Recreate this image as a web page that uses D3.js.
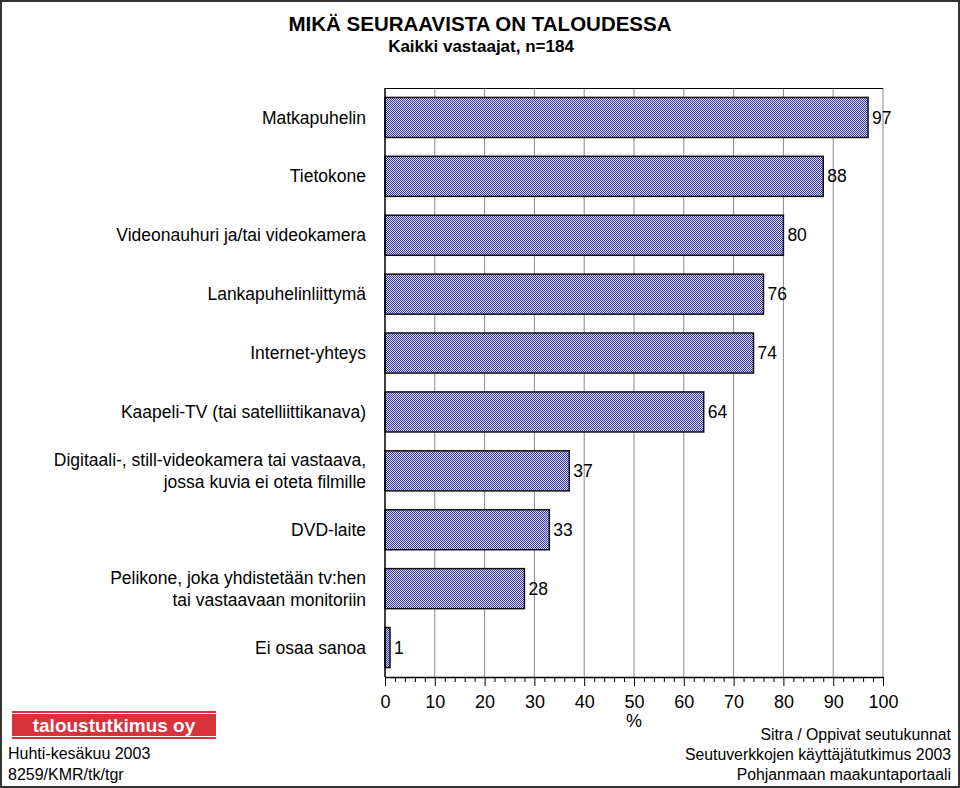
<!DOCTYPE html>
<html>
<head>
<meta charset="utf-8">
<script src="https://cdn.jsdelivr.net/npm/d3@7"></script>
<style>
  body { margin: 0; background: #fff; }
  svg { display: block; font-family: "Liberation Sans", Arial, sans-serif; }
</style>
</head>
<body>
<div id="chart"></div>
<script>
const categories = [
    ["Matkapuhelin"],
    ["Tietokone"],
    ["Videonauhuri ja/tai videokamera"],
    ["Lankapuhelinliittymä"],
    ["Internet-yhteys"],
    ["Kaapeli-TV (tai satelliittikanava)"],
    ["Digitaali-, still-videokamera tai vastaava,", "jossa kuvia ei oteta filmille"],
    ["DVD-laite"],
    ["Pelikone, joka yhdistetään tv:hen", "tai vastaavaan monitoriin"],
    ["Ei osaa sanoa"]
];
const values = [97, 88, 80, 76, 74, 64, 37, 33, 28, 1];
const xTicks = [0, 10, 20, 30, 40, 50, 60, 70, 80, 90, 100];
const footLeft = ["Huhti-kesäkuu 2003", "8259/KMR/tk/tgr"];
const footRight = ["Sitra / Oppivat seutukunnat", "Seutuverkkojen käyttäjätutkimus 2003", "Pohjanmaan maakuntaportaali"];

const width = 960, height = 788;
const plot = { left: 385, right: 883, top: 88, bottom: 677 };

const svg = d3.select("#chart").append("svg")
    .attr("width", width)
    .attr("height", height);

// Pattern for the bars
const pat = svg.append("defs").append("pattern")
    .attr("id", "checks")
    .attr("width", 2).attr("height", 2)
    .attr("patternUnits", "userSpaceOnUse");
pat.append("rect").attr("width", 2).attr("height", 2).attr("fill", "#d8d8ff");
pat.append("rect").attr("width", 1).attr("height", 1).attr("fill", "#3a3aa8");
pat.append("rect").attr("x", 1).attr("y", 1).attr("width", 1).attr("height", 1).attr("fill", "#3a3aa8");

// Outer frame
svg.append("rect")
    .attr("x", 1).attr("y", 1)
    .attr("width", width - 2).attr("height", height - 2)
    .attr("fill", "none")
    .attr("stroke", "#333")
    .attr("stroke-width", 2);

// Titles
svg.append("text")
    .attr("x", 480).attr("y", 31)
    .attr("text-anchor", "middle")
    .style("font-size", "20.5px").style("font-weight", "bold")
    .text("MIKÄ SEURAAVISTA ON TALOUDESSA");
svg.append("text")
    .attr("x", 481).attr("y", 52)
    .attr("text-anchor", "middle")
    .style("font-size", "17px").style("font-weight", "bold")
    .text("Kaikki vastaajat, n=184");

const x = d3.scaleLinear().domain([0, 100]).range([plot.left, plot.right]);
const y = d3.scaleBand()
    .domain(d3.range(categories.length))
    .range([plot.top, plot.bottom])
    .paddingInner(0.32).paddingOuter(0.16);

// Gridlines
svg.append("g")
    .selectAll("line")
    .data(xTicks.slice(1))
    .join("line")
    .attr("x1", d => x(d)).attr("x2", d => x(d))
    .attr("y1", plot.top).attr("y2", plot.bottom)
    .attr("stroke", "#8a8a8a")
    .attr("stroke-width", 1);

// Top border of plot
svg.append("line")
    .attr("x1", plot.left).attr("x2", plot.right)
    .attr("y1", plot.top + 0.5).attr("y2", plot.top + 0.5)
    .attr("stroke", "#000");

// Bars
svg.append("g")
    .selectAll("rect")
    .data(values)
    .join("rect")
    .attr("x", x(0))
    .attr("y", (d, i) => y(i))
    .attr("width", d => x(d) - x(0))
    .attr("height", y.bandwidth())
    .attr("fill", "url(#checks)")
    .attr("stroke", "#111")
    .attr("stroke-width", 1.5);

// Value labels
svg.append("g")
    .selectAll("text")
    .data(values)
    .join("text")
    .attr("x", d => x(d) + 4)
    .attr("y", (d, i) => y(i) + y.bandwidth() / 2)
    .attr("dy", "0.35em")
    .style("font-size", "17.5px")
    .text(d => d);

// Category labels
const labels = svg.append("g")
    .selectAll("text")
    .data(categories)
    .join("text")
    .attr("text-anchor", "end")
    .attr("x", 366)
    .attr("y", (d, i) => y(i) + y.bandwidth() / 2)
    .style("font-size", "17.5px");
labels.selectAll("tspan")
    .data(d => d.map((t, k) => ({ t, k, n: d.length })))
    .join("tspan")
    .attr("x", 366)
    .attr("dy", d => d.k === 0 ? `${0.35 - (d.n - 1) * 0.63}em` : "1.26em")
    .text(d => d.t);

// Left axis line
svg.append("line")
    .attr("x1", plot.left).attr("x2", plot.left)
    .attr("y1", plot.top).attr("y2", plot.bottom)
    .attr("stroke", "#000").attr("stroke-width", 1.5);

// X axis
const minor = d3.range(0, 101, 2).filter(d => d % 10 !== 0);
svg.append("g")
    .attr("transform", `translate(0,${plot.bottom})`)
    .call(d3.axisBottom(x).tickValues(minor).tickSize(5).tickFormat(""))
    .call(g => g.select(".domain").remove());
const xAxis = svg.append("g")
    .attr("transform", `translate(0,${plot.bottom})`)
    .call(d3.axisBottom(x).tickValues(xTicks).tickSize(9).tickSizeOuter(0).tickPadding(9));
xAxis.select(".domain").attr("stroke-width", 1.5);
xAxis.selectAll("text")
    .style("font-size", "18px")
    .style("font-family", "Liberation Sans, Arial, sans-serif")
    .attr("fill", "#000");

svg.append("text")
    .attr("x", x(50)).attr("y", 727)
    .attr("text-anchor", "middle")
    .style("font-size", "18px")
    .text("%");

// Logo
svg.append("rect")
    .attr("x", 12).attr("y", 711)
    .attr("width", 204).attr("height", 28)
    .attr("fill", "#d8323c");
[713.5, 736.5].forEach(yy => {
    svg.append("line")
        .attr("x1", 12).attr("x2", 216)
        .attr("y1", yy).attr("y2", yy)
        .attr("stroke", "#fff").attr("stroke-width", 1);
});
svg.append("text")
    .attr("x", 114).attr("y", 732)
    .attr("text-anchor", "middle")
    .attr("fill", "#fff")
    .style("font-size", "19px").style("font-weight", "bold")
    .text("taloustutkimus oy");

// Footers
svg.append("g")
    .selectAll("text")
    .data(footLeft)
    .join("text")
    .attr("x", 8)
    .attr("y", (d, i) => 759 + i * 21)
    .style("font-size", "16px")
    .text(d => d);
svg.append("g")
    .selectAll("text")
    .data(footRight)
    .join("text")
    .attr("x", 951)
    .attr("y", (d, i) => 740 + i * 20)
    .attr("text-anchor", "end")
    .style("font-size", "15.8px")
    .text(d => d);
</script>
</body>
</html>
